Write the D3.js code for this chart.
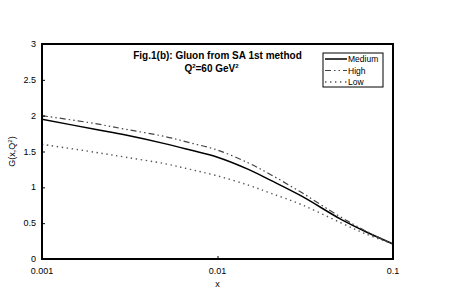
<!DOCTYPE html>
<html>
<head>
<meta charset="utf-8">
<script src="https://cdn.jsdelivr.net/npm/d3@7"></script>
<style>
  body { margin: 0; background: #fff; }
  text { font-family: "Liberation Sans", Arial, sans-serif; }
</style>
</head>
<body>
<div id="container"></div>
<script>
// values
const xs     = [0.001, 0.002, 0.003, 0.005, 0.007, 0.01, 0.015, 0.02, 0.03, 0.05, 0.07, 0.1];
const medium = [1.95, 1.81, 1.73, 1.61, 1.52, 1.42, 1.25, 1.10, 0.88, 0.56, 0.38, 0.21];
const high   = [2.00, 1.89, 1.81, 1.71, 1.62, 1.52, 1.34, 1.18, 0.93, 0.59, 0.39, 0.21];
const low    = [1.60, 1.49, 1.42, 1.33, 1.25, 1.16, 1.03, 0.92, 0.76, 0.51, 0.35, 0.21];
const yTicks = [0, 0.5, 1, 1.5, 2, 2.5, 3];
const xTicks = [0.001, 0.01, 0.1];
const seriesNames = ['Medium', 'High', 'Low'];

const width = 475, height = 295;
const margin = {top: 44, right: 82, bottom: 36, left: 42};

const svg = d3.select('#container')
    .append('svg')
    .attr('width', width)
    .attr('height', height);

const x = d3.scaleLog()
    .domain([0.001, 0.1])
    .range([margin.left, width - margin.right]);

const y = d3.scaleLinear()
    .domain([0, 3])
    .range([height - margin.bottom, margin.top]);

const styles = {
    Medium: {stroke: '#000', width: 1.5, dash: null},
    High:   {stroke: '#444', width: 1.2, dash: '6,3,1.5,3,1.5,3'},
    Low:    {stroke: '#555', width: 1.4, dash: '1.4,3.6'}
};

const series = [
    {name: 'Medium', values: medium},
    {name: 'High', values: high},
    {name: 'Low', values: low}
];

const line = d3.line()
    .x((d, i) => x(xs[i]))
    .y(d => y(d))
    .curve(d3.curveCatmullRom.alpha(0.5));

svg.append('g')
    .selectAll('path')
    .data(series)
    .join('path')
      .attr('fill', 'none')
      .attr('stroke', d => styles[d.name].stroke)
      .attr('stroke-width', d => styles[d.name].width)
      .attr('stroke-dasharray', d => styles[d.name].dash)
      .attr('d', d => line(d.values));

// axes, ticks point inward
svg.append('g')
    .attr('transform', `translate(${margin.left},0)`)
    .call(d3.axisRight(y).tickValues(yTicks).tickSize(3).tickFormat(''))
    .call(g => g.select('.domain').remove());

svg.append('g')
    .attr('font-size', 9)
    .selectAll('text')
    .data(yTicks)
    .join('text')
      .attr('x', margin.left - 6)
      .attr('y', d => y(d) + 3)
      .attr('text-anchor', 'end')
      .text(d => d);

svg.append('g')
    .attr('transform', `translate(0,${height - margin.bottom})`)
    .call(d3.axisTop(x).tickValues(xTicks).tickSize(3).tickFormat(''))
    .call(g => g.select('.domain').remove());

svg.append('g')
    .attr('font-size', 9)
    .selectAll('text')
    .data(xTicks)
    .join('text')
      .attr('x', d => x(d))
      .attr('y', height - margin.bottom + 15)
      .attr('text-anchor', 'middle')
      .text(d => d);

// plot frame
svg.append('rect')
    .attr('x', margin.left)
    .attr('y', margin.top)
    .attr('width', width - margin.left - margin.right)
    .attr('height', height - margin.top - margin.bottom)
    .attr('fill', 'none')
    .attr('stroke', '#000')
    .attr('stroke-width', 2);

// axis titles
svg.append('text')
    .attr('x', (margin.left + width - margin.right) / 2)
    .attr('y', 287)
    .attr('text-anchor', 'middle')
    .attr('font-size', 9)
    .text('x');

const yl = svg.append('text')
    .attr('transform', `translate(15,${(margin.top + height - margin.bottom) / 2}) rotate(-90)`)
    .attr('text-anchor', 'middle')
    .attr('font-size', 9);
yl.append('tspan').text('G(x,Q');
yl.append('tspan').attr('font-size', 6).attr('dy', -3).text('2');
yl.append('tspan').attr('dy', 3).text(')');

// title
const cx = (margin.left + width - margin.right) / 2;
svg.append('text')
    .attr('x', cx)
    .attr('y', 59)
    .attr('text-anchor', 'middle')
    .attr('font-size', 10)
    .attr('font-weight', 'bold')
    .text('Fig.1(b): Gluon from SA 1st method');

const t2 = svg.append('text')
    .attr('x', cx - 6)
    .attr('y', 72)
    .attr('text-anchor', 'middle')
    .attr('font-size', 10)
    .attr('font-weight', 'bold');
t2.append('tspan').text('Q');
t2.append('tspan').attr('font-size', 6).attr('dy', -4).text('2');
t2.append('tspan').attr('dy', 4).text('=60 GeV');
t2.append('tspan').attr('font-size', 6).attr('dy', -4).text('2');

// legend
const lg = svg.append('g').attr('transform', 'translate(323,53)');
lg.append('rect')
    .attr('width', 60)
    .attr('height', 34)
    .attr('fill', '#fff')
    .attr('stroke', '#000')
    .attr('stroke-width', 1);

const items = lg.selectAll('g')
    .data(seriesNames)
    .join('g')
      .attr('transform', (d, i) => `translate(0,${6 + i * 11.5})`);

items.append('line')
    .attr('x1', 2).attr('x2', 24)
    .attr('stroke', d => styles[d].stroke)
    .attr('stroke-width', d => styles[d].width)
    .attr('stroke-dasharray', d => styles[d].dash);

items.append('text')
    .attr('x', 25)
    .attr('y', 3)
    .attr('font-size', 8.5)
    .text(d => d);
</script>
</body>
</html>
